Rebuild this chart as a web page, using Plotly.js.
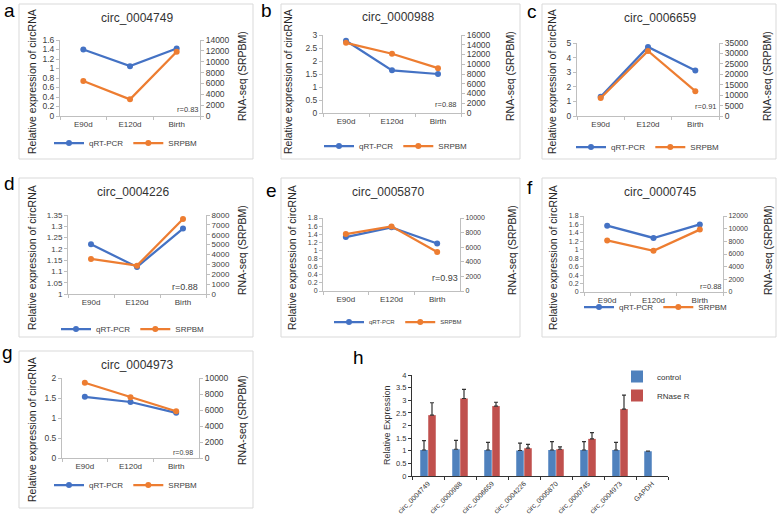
<!DOCTYPE html>
<html><head><meta charset="utf-8">
<script src="https://cdn.plot.ly/plotly-3.0.1.min.js"></script>
<style>html,body{margin:0;padding:0;background:#fff}#chart{width:778px;height:515px}</style>
</head><body><div id="chart"></div>
<script>
// ---------- data ----------
const stages = ['E90d', 'E120d', 'Birth'];
const circNames = ['circ_0004749', 'circ_0000988', 'circ_0006659', 'circ_0004226', 'circ_0005870', 'circ_0000745', 'circ_0004973'];
const seriesNames = ['qRT-PCR', 'SRPBM'];

const qrt_0004749 = [1.40, 1.05, 1.42];
const srpbm_0004749 = [6450, 3070, 11850];
const qrt_0000988 = [2.78, 1.64, 1.50];
const srpbm_0000988 = [14400, 12150, 9200];
const qrt_0006659 = [1.32, 4.73, 3.11];
const srpbm_0006659 = [8600, 31200, 11900];
const qrt_0004226 = [1.22, 1.12, 1.29];
const srpbm_0004226 = [3550, 2870, 7600];
const qrt_0005870 = [1.33, 1.57, 1.17];
const srpbm_0005870 = [7800, 8850, 5350];
const qrt_0000745 = [1.57, 1.28, 1.60];
const srpbm_0000745 = [8150, 6500, 9850];
const qrt_0004973 = [1.53, 1.40, 1.13];
const srpbm_0004973 = [9400, 7600, 5850];
const rLabels = ['r=0.83', 'r=0.88', 'r=0.91', 'r=0.88', 'r=0.93', 'r=0.88', 'r=0.98'];

const hCategories = ['circ_0004749', 'circ_0000988', 'circ_0006659', 'circ_0004226', 'circ_0005870', 'circ_0000745', 'circ_0004973', 'GAPDH'];
const hSeries = ['control', 'RNase R'];
const controlVals = [1.03, 1.06, 1.03, 1.01, 1.03, 1.03, 1.03, 0.98];
const controlErr = [0.37, 0.35, 0.30, 0.29, 0.33, 0.33, 0.30, 0.01];
const rnaseVals = [2.41, 3.07, 2.77, 1.10, 1.06, 1.47, 2.65, null];
const rnaseErr = [0.49, 0.36, 0.15, 0.15, 0.09, 0.25, 0.55, null];

// ---------- layout helpers ----------
const W = 778, H = 515;
const X = p => p / W, Y = p => 1 - p / H;
const FONT = 'Arial, "Liberation Sans", sans-serif';
const BLUE = '#4472C4', ORANGE = '#ED7D31';
const AX = '#BFBFBF', TXT = '#404040';

const panels = [
  {letter:'a', qrt:qrt_0004749, srpbm:srpbm_0004749, yl:[0,1.6], dtl:0.2, yr:[0,14000], dtr:2000,
   px:[60,200], py:[40,116], box:[19,4,253,159], title:[137,18], lp:[9,11], lt:[32,82], rt:[242,76], rp:[187,109], rs:7.5, leg:[126,143], ls:8, tf:8.5},
  {letter:'b', qrt:qrt_0000988, srpbm:srpbm_0000988, yl:[0,3], dtl:0.5, yr:[0,16000], dtr:2000,
   px:[323,461], py:[35,113], box:[281,4,520,159], title:[398,17], lp:[266,11], lt:[288,82], rt:[510,76], rp:[445,104], rs:7.5, leg:[396,146], ls:8, tf:8.5},
  {letter:'c', qrt:qrt_0006659, srpbm:srpbm_0006659, yl:[0,5], dtl:1, yr:[0,35000], dtr:5000,
   px:[577,719], py:[43,116], box:[542,4,776,159], title:[660,18], lp:[532,12], lt:[552,82], rt:[767,76], rp:[705,107], rs:7.5, leg:[648,147], ls:8, tf:8.5},
  {letter:'d', qrt:qrt_0004226, srpbm:srpbm_0004226, yl:[1,1.35], dtl:0.05, yr:[0,8000], dtr:1000,
   px:[68,206], py:[215,294], box:[19,178,253,337], title:[133,192], lp:[9,183], lt:[32,258], rt:[242,250], rp:[185,287], rs:9, leg:[133,329], ls:8, tf:8},
  {letter:'e', qrt:qrt_0005870, srpbm:srpbm_0005870, yl:[0,1.8], dtl:0.2, yr:[0,10000], dtr:2000,
   px:[323,460], py:[218,291], box:[281,178,520,337], title:[388,192], lp:[271,191], lt:[292,258], rt:[512,250], rp:[445,278], rs:9, leg:[398,322], ls:6, tf:7},
  {letter:'f', qrt:qrt_0000745, srpbm:srpbm_0000745, yl:[0,1.8], dtl:0.2, yr:[0,12000], dtr:2000,
   px:[584,723], py:[216,292], box:[542,178,776,337], title:[660,192], lp:[530,187], lt:[553,258], rt:[768,250], rp:[710,286], rs:7.5, leg:[656,307], ls:8, tf:7},
  {letter:'g', qrt:qrt_0004973, srpbm:srpbm_0004973, yl:[0,2], dtl:0.5, yr:[0,10000], dtr:2000,
   px:[62,199], py:[378,458], box:[19,351,253,508], title:[137,365], lp:[7,352], lt:[32,430], rt:[242,420], rp:[183,452], rs:7, leg:[126,485], ls:8, tf:8.5}
];

const data = [];
const layout = {
  width: W, height: H, margin: {l:0, r:0, t:0, b:0},
  paper_bgcolor: '#fff', plot_bgcolor: 'rgba(0,0,0,0)',
  font: {family: FONT, color: TXT},
  showlegend: true, hovermode: false,
  barmode: 'group', bargap: 0.5, bargroupgap: 0.06,
  shapes: [], annotations: []
};

function ann(text, px, py, size, extra) {
  layout.annotations.push(Object.assign({text, x:X(px), y:Y(py), xref:'paper', yref:'paper',
    showarrow:false, xanchor:'center', yanchor:'middle', font:{family:FONT, size, color:'#262626'}}, extra || {}));
}

panels.forEach((p, i) => {
  const k = i + 1;
  const xa = k === 1 ? 'x' : 'x' + k;
  const ylId = 2 * k - 1, yrId = 2 * k;
  const yl = ylId === 1 ? 'y' : 'y' + ylId;
  const yr = 'y' + yrId;
  const legName = k === 1 ? 'legend' : 'legend' + k;

  data.push({type:'scatter', mode:'lines+markers', x:stages, y:p.qrt, name:seriesNames[0],
    xaxis:xa, yaxis:yl, legend:legName, line:{color:BLUE, width:2.25}, marker:{color:BLUE, size:6}});
  data.push({type:'scatter', mode:'lines+markers', x:stages, y:p.srpbm, name:seriesNames[1],
    xaxis:xa, yaxis:yr, legend:legName, line:{color:ORANGE, width:2.25}, marker:{color:ORANGE, size:6}});

  layout['xaxis' + (k === 1 ? '' : k)] = {
    domain:[X(p.px[0]), X(p.px[1])], anchor:yl, type:'category', range:[-0.5, 2.5],
    tickson:'boundaries', ticks:'outside', ticklen:3, tickcolor:AX, showline:true, linecolor:AX, linewidth:1,
    showgrid:false, zeroline:false, tickfont:{size:8, color:TXT}, fixedrange:true
  };
  const yCommon = {ticks:'outside', ticklen:3, tickcolor:AX, showline:true, linecolor:AX, linewidth:1,
    showgrid:false, zeroline:false, tickfont:{size:p.tf, color:TXT}, exponentformat:'none', fixedrange:true};
  layout['yaxis' + (ylId === 1 ? '' : ylId)] = Object.assign({}, yCommon, {
    domain:[Y(p.py[1]), Y(p.py[0])], anchor:xa, range:p.yl, tick0:p.yl[0], dtick:p.dtl});
  layout['yaxis' + yrId] = Object.assign({}, yCommon, {
    overlaying:yl, side:'right', anchor:xa, range:p.yr, tick0:0, dtick:p.dtr, tickformat:'d'});

  layout[legName] = {orientation:'h', x:X(p.leg[0]), y:Y(p.leg[1]), xanchor:'center', yanchor:'middle',
    bgcolor:'rgba(0,0,0,0)', font:{size:p.ls, color:TXT}, itemwidth:30, tracegroupgap:0};

  layout.shapes.push({type:'rect', xref:'paper', yref:'paper', x0:X(p.box[0]), x1:X(p.box[2]),
    y0:Y(p.box[3]), y1:Y(p.box[1]), line:{color:'#D9D9D9', width:1}, layer:'below'});

  ann(circNames[i], p.title[0], p.title[1], 12, {font:{family:FONT, size:12, color:'#333'}});
  ann(p.letter, p.lp[0], p.lp[1], 19, {font:{family:FONT, size:19, color:'#000'}});
  ann('Relative expression of circRNA', p.lt[0], p.lt[1], 10.5, {textangle:-90});
  ann('RNA-seq (SRPBM)', p.rt[0], p.rt[1], 10.5, {textangle:-90});
  ann(rLabels[i], p.rp[0], p.rp[1], p.rs, {font:{family:FONT, size:p.rs, color:TXT}});
});

// ---------- panel h ----------
data.push({type:'bar', x:hCategories, y:controlVals, name:hSeries[0], xaxis:'x8', yaxis:'y15', legend:'legend8',
  marker:{color:'#4F81BD'}, error_y:{type:'data', array:controlErr, arrayminus:controlErr.map(()=>0), symmetric:false,
  color:'#333', thickness:1.2, width:2}});
data.push({type:'bar', x:hCategories, y:rnaseVals, name:hSeries[1], xaxis:'x8', yaxis:'y15', legend:'legend8',
  marker:{color:'#C0504D'}, error_y:{type:'data', array:rnaseErr, arrayminus:rnaseErr.map(()=>0), symmetric:false,
  color:'#333', thickness:1.2, width:2}});

layout.xaxis8 = {domain:[X(412), X(668)], anchor:'y15', type:'category', tickson:'boundaries', ticks:'outside',
  ticklen:3, tickcolor:'#333', showline:true, linecolor:'#333', linewidth:1, showgrid:false, zeroline:false,
  tickangle:-45, tickfont:{size:7, color:'#333'}, fixedrange:true};
layout.yaxis15 = {domain:[Y(476), Y(375)], anchor:'x8', range:[0,4], dtick:0.5, ticks:'outside', ticklen:3,
  tickcolor:'#333', showline:true, linecolor:'#333', linewidth:1, showgrid:false, zeroline:false,
  tickfont:{size:7.5, color:'#333'}, fixedrange:true};
layout.legend8 = {orientation:'v', x:X(617), y:Y(362), xanchor:'left', yanchor:'top',
  bgcolor:'rgba(0,0,0,0)', font:{size:8, color:'#333'}, itemwidth:30, tracegroupgap:0};

ann('Relative Expression', 387, 425, 9, {textangle:-90, font:{family:FONT, size:9, color:'#333'}});
ann('h', 358, 357, 19, {font:{family:FONT, size:19, color:'#000'}});

Plotly.newPlot('chart', data, layout, {staticPlot:true, displayModeBar:false});
</script>
</body></html>
